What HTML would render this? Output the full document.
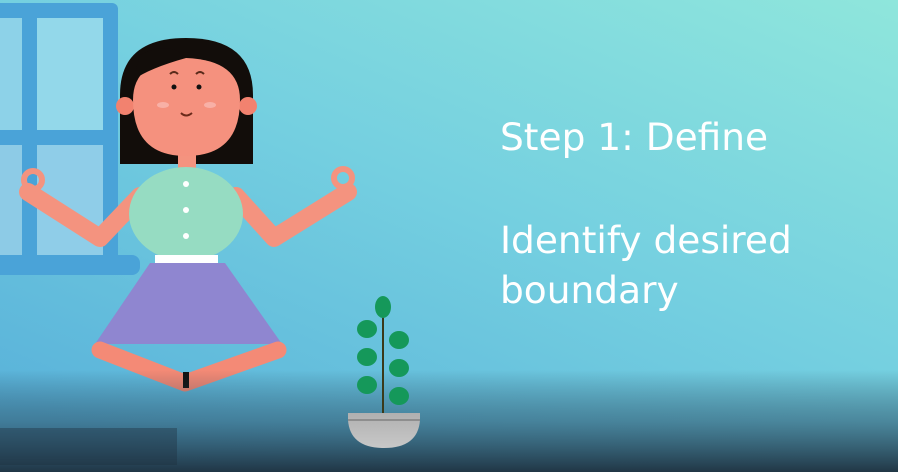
<!DOCTYPE html>
<html><head><meta charset="utf-8"><style>
html,body{margin:0;padding:0;width:898px;height:472px;overflow:hidden}
svg{display:block}
text{font-family:"DejaVu Sans","Liberation Sans",sans-serif;fill:#fff}
</style></head><body>
<svg width="898" height="472" viewBox="0 0 898 472">
<defs>
<linearGradient id="bg" x1="1" y1="0" x2="0.2" y2="1">
<stop offset="0" stop-color="#8fe6dc"/><stop offset="0.5" stop-color="#74cfe0"/><stop offset="1" stop-color="#5ab3da"/>
</linearGradient>
<linearGradient id="dark" x1="0" y1="0" x2="0" y2="1">
<stop offset="0" stop-color="#1e3345" stop-opacity="0"/><stop offset="0.5" stop-color="#2c5066" stop-opacity="0.55"/><stop offset="1" stop-color="#1d2f3d" stop-opacity="0.95"/>
</linearGradient>
<linearGradient id="pot" x1="0" y1="0" x2="0" y2="1"><stop offset="0" stop-color="#b0b0b0"/><stop offset="1" stop-color="#c8c8c8"/></linearGradient>
</defs>
<rect width="898" height="472" fill="url(#bg)"/>
<g>
<rect x="-10" y="3" width="128" height="262" rx="6" fill="#4aa3d8"/>
<rect x="0" y="18" width="22" height="112" fill="#8dd2e8"/>
<rect x="0" y="145" width="22" height="110" fill="#8dcbe6"/>
<rect x="37" y="18" width="66" height="112" fill="#93d8ea"/>
<rect x="37" y="145" width="66" height="110" fill="#8fcde8"/>
<rect x="-10" y="255" width="150" height="20" rx="8" fill="#4aa3d8"/>
</g>
<g>
<path d="M120 164 L120 95 Q120 38 186 38 Q253 38 253 95 L253 164 Z" fill="#120d0a"/>
<circle cx="125" cy="106" r="9" fill="#f2826f"/><circle cx="248" cy="106" r="9" fill="#f2826f"/>
<rect x="178" y="150" width="18" height="24" fill="#f4937f"/>
<path d="M133 100 Q133 60 186 58 Q240 60 240 100 Q240 156 186 156 Q133 156 133 100Z" fill="#f5917e"/>
<path d="M133 80 Q150 68 186 58 Q170 40 140 55Z" fill="#120d0a"/>
<circle cx="174" cy="87" r="2.5" fill="#111"/><circle cx="199" cy="87" r="2.5" fill="#111"/>
<path d="M170 74 Q174 70 178 74 M196 74 Q200 70 204 74" stroke="#5a2a1a" stroke-width="2" fill="none"/>
<path d="M181 113 Q186 118 192 113" stroke="#6a2a1a" stroke-width="2" fill="none"/>
<ellipse cx="163" cy="105" rx="6" ry="3" fill="#f8b0a6"/><ellipse cx="210" cy="105" rx="6" ry="3" fill="#f8b0a6"/>
<path d="M140 196 L100 238 L28 192" stroke="#f4937f" stroke-width="18" fill="none" stroke-linecap="round" stroke-linejoin="round"/>
<path d="M236 196 L274 238 L348 192" stroke="#f4937f" stroke-width="18" fill="none" stroke-linecap="round" stroke-linejoin="round"/>
<circle cx="33" cy="180" r="9" fill="none" stroke="#f4937f" stroke-width="6"/>
<circle cx="343" cy="178" r="9" fill="none" stroke="#f4937f" stroke-width="6"/>
<ellipse cx="186" cy="214" rx="57" ry="47" fill="#96dcc2"/>
<circle cx="186" cy="184" r="3" fill="#fff"/><circle cx="186" cy="210" r="3" fill="#fff"/><circle cx="186" cy="236" r="3" fill="#fff"/>
<rect x="155" y="255" width="63" height="8" fill="#fff"/>
<path d="M150 263 L225 263 L282 344 L95 344Z" fill="#8f86d0"/>
<path d="M100 350 L185 383 L278 350" stroke="#f48a76" stroke-width="17" fill="none" stroke-linecap="round" stroke-linejoin="round"/>
<rect x="183" y="372" width="6" height="16" fill="#111"/>
</g>
<rect x="0" y="370" width="898" height="102" fill="url(#dark)"/>
<rect x="0" y="428" width="177" height="37" fill="#1e2f3e" opacity="0.4"/>
<g>
<line x1="383" y1="310" x2="383" y2="413" stroke="#3a3a1a" stroke-width="2"/>
<ellipse cx="383" cy="307" rx="8" ry="11" fill="#15985a"/>
<ellipse cx="367" cy="329" rx="10" ry="9" fill="#15985a"/><ellipse cx="399" cy="340" rx="10" ry="9" fill="#15985a"/>
<ellipse cx="367" cy="357" rx="10" ry="9" fill="#15985a"/><ellipse cx="399" cy="368" rx="10" ry="9" fill="#15985a"/>
<ellipse cx="367" cy="385" rx="10" ry="9" fill="#15985a"/><ellipse cx="399" cy="396" rx="10" ry="9" fill="#15985a"/>
<path d="M348 413 L420 413 L420 420 Q418 448 384 448 Q350 448 348 420Z" fill="url(#pot)"/>
<line x1="348" y1="420" x2="420" y2="420" stroke="#8e8e8e" stroke-width="2"/>
</g>
<text x="500" y="150" font-size="37.5">Step 1: Define</text>
<text x="500" y="253" font-size="37.5">Identify desired</text>
<text x="500" y="303" font-size="37.5">boundary</text>
</svg>
</body></html>
